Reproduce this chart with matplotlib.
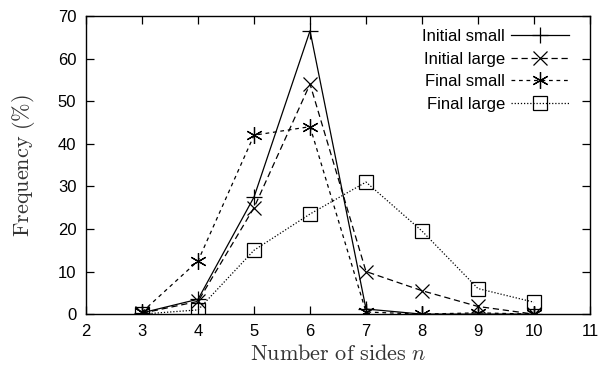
import numpy as np
import matplotlib
matplotlib.use("Agg")
import matplotlib.pyplot as plt

# ==== Data ====
sides = [3, 4, 5, 6, 7, 8, 9, 10]
initial_small = [0.3, 3.5, 27.5, 66.5, 1.2, 0.0, 0.0, 0.0]
initial_large = [0.2, 3.0, 25.0, 54.0, 10.0, 5.5, 1.8, 0.0]
final_small = [0.5, 12.5, 42.0, 44.0, 0.5, 0.0, 0.3, 0.0]
final_large = [0.0, 1.0, 15.0, 23.5, 31.0, 19.5, 6.0, 2.8]

plt.rcParams['font.family'] = ['Liberation Sans', 'DejaVu Sans']
plt.rcParams['mathtext.fontset'] = 'cm'

fig = plt.figure(figsize=(6.02, 3.70), dpi=100)
ax = fig.add_axes([0.143, 0.151, 0.837, 0.806])

ax.plot(sides, initial_small, color='black', lw=0.9, ls='-', marker='+',
        ms=12, mew=0.9, label='Initial small')
ax.plot(sides, initial_large, color='black', lw=0.9, ls=(0, (5, 3)), marker='x',
        ms=10, mew=0.9, label='Initial large')
ax.plot(sides, final_small, color='black', lw=0.9, ls=(0, (3, 3)), marker=(6, 2, 0),
        ms=12, mew=0.9, label='Final small')
ax.plot(sides, final_large, color='black', lw=0.9, ls=(0, (1, 1.5)), marker='s',
        ms=10, mew=0.9, mfc='none', label='Final large')

ax.set_xlim(2, 11)
ax.set_ylim(0, 70)
ax.set_xticks(range(2, 12))
ax.set_yticks(range(0, 71, 10))
ax.tick_params(direction='in', top=True, right=True, length=6, width=0.9,
               labelsize=12, pad=7)
for s in ax.spines.values():
    s.set_linewidth(1.0)

ax.set_xlabel(r'$\mathrm{Number\ of\ sides}\ n$', fontsize=16, color='#333333', labelpad=4)
ax.set_ylabel(r'$\mathrm{Frequency\ (\%)}$', fontsize=16, color='#333333', labelpad=15)

ax.legend(loc='upper right', frameon=False, markerfirst=False, fontsize=12,
          handlelength=3.5, labelspacing=0.45, handletextpad=0.35,
          borderaxespad=0.3, bbox_to_anchor=(0.982, 0.995))

fig.savefig('out.png', dpi=100)
